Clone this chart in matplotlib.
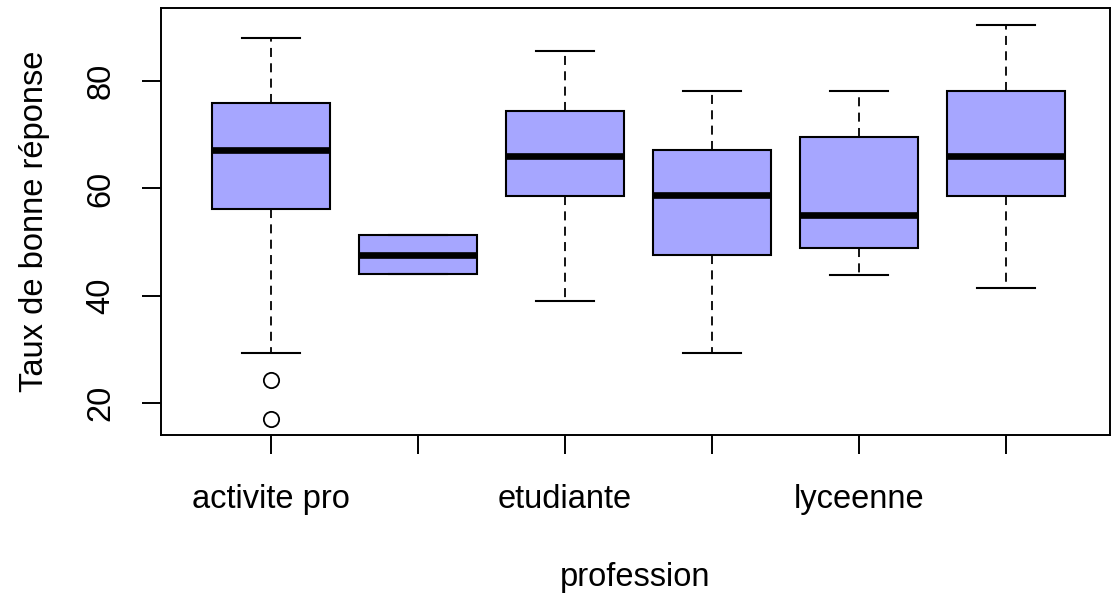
import matplotlib
matplotlib.use("Agg")
import matplotlib.pyplot as plt

plt.rcParams['font.family'] = ['Liberation Sans', 'DejaVu Sans']

# professions (only every other label is shown in the reference)
labels = ["activite pro", "", "etudiante", "", "lyceenne", ""]
whislo = [29.4, 44.1, 39.1, 29.4, 43.9, 41.5]
q1 = [56.2, 44.1, 58.6, 47.6, 48.9, 58.6]
med = [67.2, 47.6, 66.0, 58.8, 55.1, 66.0]
q3 = [75.9, 51.3, 74.4, 67.2, 69.6, 78.1]
whishi = [88.0, 51.3, 85.6, 78.1, 78.1, 90.4]
fliers = [[24.4, 17.1], [], [], [], [], []]

stats = []
for i in range(len(labels)):
    stats.append({"whislo": whislo[i], "q1": q1[i], "med": med[i], "q3": q3[i],
                  "whishi": whishi[i], "fliers": fliers[i], "label": labels[i]})

fig = plt.figure(figsize=(11.2, 5.97), dpi=100)
ax = fig.add_axes([0.1438, 0.2714, 0.8472, 0.7152])

ax.bxp(stats, positions=range(1, 7), widths=0.8, patch_artist=True,
       boxprops=dict(facecolor="#a6a6ff", edgecolor="black", linewidth=1.5),
       medianprops=dict(color="black", linewidth=4.8, solid_capstyle="butt"),
       whiskerprops=dict(color="black", linewidth=1.3, linestyle=(0, (5, 3.5))),
       capprops=dict(color="black", linewidth=1.5),
       capwidths=0.4,
       flierprops=dict(marker="o", markersize=11, markerfacecolor="none",
                       markeredgecolor="black", markeredgewidth=1.3))

ax.set_xlim(0.252, 6.707)
ax.set_ylim(14.1, 93.6)
ax.set_yticks([20, 40, 60, 80])
ax.set_xticks(range(1, 7))
ax.set_xticklabels(labels)

for s in ax.spines.values():
    s.set_linewidth(1.4)

ax.tick_params(axis="both", direction="out", length=14, width=1.4, labelsize=23.5)
ax.tick_params(axis="x", pad=21)
ax.tick_params(axis="y", pad=18)
for t in ax.get_yticklabels():
    t.set_rotation(90)
    t.set_verticalalignment("center")

ax.set_xlabel("profession", fontsize=23.5, labelpad=34)
ax.set_ylabel("Taux de bonne réponse", fontsize=23.5, labelpad=26)

fig.savefig("out.png", dpi=100)
